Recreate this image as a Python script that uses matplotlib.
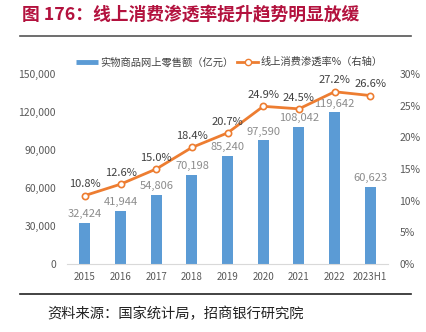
import numpy as np
import matplotlib.pyplot as plt
from matplotlib.lines import Line2D
from matplotlib.ticker import FuncFormatter

plt.rcParams['font.family'] = ['Noto Sans CJK SC', 'DejaVu Sans']

# 实物商品网上零售额（亿元）与线上消费渗透率
years = ['2015', '2016', '2017', '2018', '2019', '2020', '2021', '2022', '2023H1']
sales = [32424, 41944, 54806, 70198, 85240, 97590, 108042, 119642, 60623]
penetration = [10.8, 12.6, 15.0, 18.4, 20.7, 24.9, 24.5, 27.2, 26.6]

bar_color = '#5B9BD5'
line_color = '#ED7D31'
tick_color = '#595959'

fig = plt.figure(figsize=(4.27, 3.32), dpi=100)
ax = fig.add_axes([0.157, 0.205, 0.752, 0.572])
ax2 = ax.twinx()

x = np.arange(len(years))
ax.bar(x, sales, width=0.31, color=bar_color, zorder=2)
for xi, v in zip(x, sales):
    ax.text(xi, v + 3000, f'{v:,}', ha='center', va='bottom', fontsize=8,
            color='#8c8c8c')

ax.set_xlim(-0.5, len(years) - 0.5)
ax.set_ylim(0, 150000)
ax.set_yticks(np.arange(0, 150001, 30000))
ax.yaxis.set_major_formatter(FuncFormatter(lambda v, p: f'{int(v):,}'))
ax.set_xticks(x)
ax.set_xticklabels(years)

ax2.plot(x, penetration, color=line_color, lw=2, marker='o', ms=4.5,
         mfc='white', mec=line_color, mew=1.2, zorder=3)
for xi, v in zip(x, penetration):
    ax2.text(xi, v + 1.0, f'{v:.1f}%', ha='center', va='bottom', fontsize=8,
             color='#404040')
ax2.set_ylim(0, 30)
ax2.set_yticks(np.arange(0, 31, 5))
ax2.yaxis.set_major_formatter(FuncFormatter(lambda v, p: f'{int(v)}%'))

for a in (ax, ax2):
    for s in a.spines.values():
        s.set_visible(False)
    a.tick_params(length=0, labelsize=7.5, colors=tick_color)
ax.spines['bottom'].set_visible(True)
ax.spines['bottom'].set_color('#d9d9d9')
ax.tick_params(axis='x', labelsize=7, pad=6)
ax.tick_params(axis='y', pad=8)
ax2.tick_params(axis='y', pad=8)

handles = [Line2D([], [], color=bar_color, lw=3.5, solid_capstyle='butt'),
           Line2D([], [], color=line_color, lw=2, marker='o', ms=4.5,
                  mfc='white', mec=line_color)]
labels = ['实物商品网上零售额（亿元）', '线上消费渗透率%（右轴）']
fig.legend(handles, labels, loc='center', bbox_to_anchor=(0.538, 0.813),
           ncol=2, frameon=False, fontsize=7.4, handlelength=2.1,
           columnspacing=0.3, handletextpad=0.25, labelcolor='#404040')

fig.text(0.052, 0.955, '图 176：线上消费渗透率提升趋势明显放缓', fontsize=12.8,
         fontweight='bold', color='#B3123E', va='center')
fig.add_artist(Line2D([0.047, 0.963], [0.892, 0.892], color='#555555', lw=1.2))
fig.add_artist(Line2D([0.047, 0.963], [0.115, 0.115], color='#222222', lw=1.2))
fig.text(0.11, 0.055, '资料来源：国家统计局，招商银行研究院', fontsize=10.3,
         color='#222222', va='center')

fig.savefig('out.png', dpi=100)
